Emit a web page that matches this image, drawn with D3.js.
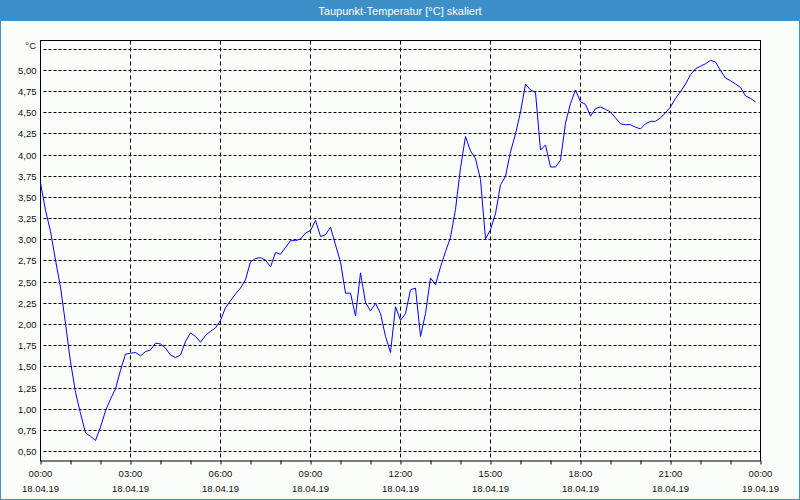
<!DOCTYPE html>
<html>
<head>
<meta charset="utf-8">
<script src="https://cdn.jsdelivr.net/npm/d3@7"></script>
<style>
  html, body { margin: 0; padding: 0; background: #fbfdfb; }
  svg { display: block; }
  text { font-family: "Liberation Sans", Arial, sans-serif; }
</style>
</head>
<body>
<svg id="chart" width="800" height="500"></svg>
<script>
// ---- data ----
const chartTitle = "Taupunkt-Temperatur [°C] skaliert";
const unitLabel = "°C";
const startTime = "2019-04-18T00:00:00";
const endTime = "2019-04-19T00:00:00";
const intervalMinutes = 10;
// dew point values every 10 minutes, 18.04.19 00:00 .. 23:50
const dewPoint = [
  3.67, 3.35, 3.10, 2.76, 2.44, 2.01, 1.56, 1.20, 0.95, 0.72,
  0.68, 0.63, 0.79, 0.98, 1.12, 1.24, 1.46, 1.65, 1.66, 1.67,
  1.63, 1.68, 1.70, 1.78, 1.77, 1.72, 1.64, 1.61, 1.64, 1.80,
  1.90, 1.86, 1.79, 1.87, 1.92, 1.96, 2.05, 2.20, 2.28, 2.36,
  2.43, 2.53, 2.74, 2.78, 2.79, 2.76, 2.68, 2.85, 2.83, 2.91,
  2.99, 2.99, 3.01, 3.08, 3.11, 3.23, 3.04, 3.06, 3.15, 2.94,
  2.74, 2.37, 2.37, 2.10, 2.61, 2.26, 2.16, 2.25, 2.13, 1.86,
  1.67, 2.21, 2.05, 2.13, 2.41, 2.43, 1.86, 2.13, 2.55, 2.47,
  2.68, 2.86, 3.03, 3.36, 3.85, 4.22, 4.05, 3.96, 3.71, 3.01,
  3.12, 3.31, 3.65, 3.75, 4.04, 4.25, 4.51, 4.84, 4.77, 4.74,
  4.06, 4.12, 3.86, 3.86, 3.94, 4.38, 4.61, 4.77, 4.63, 4.60,
  4.46, 4.55, 4.57, 4.54, 4.51, 4.44, 4.37, 4.36, 4.36, 4.33,
  4.31, 4.37, 4.40, 4.40, 4.44, 4.50, 4.57, 4.67, 4.75, 4.84,
  4.95, 5.02, 5.05, 5.08, 5.12, 5.10, 5.00, 4.91, 4.88, 4.84,
  4.80, 4.70, 4.67, 4.63
];
const yTicks = [0.5, 0.75, 1.0, 1.25, 1.5, 1.75, 2.0, 2.25, 2.5, 2.75, 3.0, 3.25, 3.5, 3.75, 4.0, 4.25, 4.5, 4.75, 5.0];
const yTopGrid = 5.25;
const timeLabels = ["00:00", "03:00", "06:00", "09:00", "12:00", "15:00", "18:00", "21:00", "00:00"];
const dateLabels = ["18.04.19", "18.04.19", "18.04.19", "18.04.19", "18.04.19", "18.04.19", "18.04.19", "18.04.19", "19.04.19"];
const yDomain = [0.388, 5.36];

// ---- layout ----
const W = 800, H = 500;
const plot = { left: 40.5, right: 760.5, top: 40.5, bottom: 460.5 };
const svg = d3.select("#chart");

const t0 = new Date(startTime), t1 = new Date(endTime);
const x = d3.scaleTime().domain([t0, t1]).range([plot.left, plot.right]);
const y = d3.scaleLinear().domain(yDomain).range([461, 40]);
const snap = v => Math.floor(v) + 0.5;

const points = dewPoint.map((v, i) => ({ t: new Date(t0.getTime() + i * intervalMinutes * 60000), v }));

// window frame
svg.append("rect").attr("x", 0.5).attr("y", 0.5).attr("width", W - 1).attr("height", H - 1)
  .attr("fill", "#fbfdfb").attr("stroke", "#3c8fc7").attr("stroke-width", 1);
svg.append("rect").attr("x", 0).attr("y", 0).attr("width", W).attr("height", 21).attr("fill", "#3c8fc7");
svg.append("text").attr("x", 400).attr("y", 14.5).attr("text-anchor", "middle")
  .attr("fill", "#ffffff").attr("font-size", "11px").text(chartTitle);

// horizontal grid
const gridG = svg.append("g").attr("stroke", "#000").attr("stroke-width", 1);
[...yTicks, yTopGrid].forEach(v => {
  gridG.append("line").attr("x1", plot.left + 3).attr("x2", plot.right)
    .attr("y1", snap(y(v))).attr("y2", snap(y(v))).attr("stroke-dasharray", "3,2");
});
// vertical grid (every 3 hours)
const majorTicks = timeLabels.map((_, i) => new Date(t0.getTime() + i * 3 * 3600000));
majorTicks.slice(1, -1).forEach(t => {
  gridG.append("line").attr("x1", snap(x(t))).attr("x2", snap(x(t)))
    .attr("y1", plot.top).attr("y2", plot.bottom).attr("stroke-dasharray", "4,3");
});

// frame lines
const frame = svg.append("g").attr("stroke", "#000").attr("stroke-width", 1).attr("shape-rendering", "crispEdges");
frame.append("line").attr("x1", plot.left).attr("x2", plot.right).attr("y1", plot.top).attr("y2", plot.top);
frame.append("line").attr("x1", plot.right).attr("x2", plot.right).attr("y1", plot.top).attr("y2", plot.bottom);

// x axis
const xAxis = d3.axisBottom(x).ticks(d3.timeHour.every(1)).tickSize(4).tickFormat("");
const xg = svg.append("g").attr("transform", `translate(0,${plot.bottom})`).call(xAxis);
xg.select(".domain").attr("stroke", "#000").attr("d", `M${plot.left},0.5H${plot.right}`);
xg.selectAll(".tick line").attr("stroke", "#000");
majorTicks.forEach((t, i) => {
  svg.append("text").attr("x", snap(x(t))).attr("y", 477).attr("text-anchor", "middle")
    .attr("font-size", "9.5px").attr("fill", "#111").text(timeLabels[i]);
  svg.append("text").attr("x", snap(x(t))).attr("y", 492).attr("text-anchor", "middle")
    .attr("font-size", "9.5px").attr("fill", "#111").text(dateLabels[i]);
});

// y axis
const yAxis = d3.axisLeft(y).tickValues(yTicks).tickSize(0)
  .tickFormat(d => d3.format(".2f")(d).replace(".", ","));
const yg = svg.append("g").attr("transform", `translate(${plot.left},0)`).call(yAxis);
yg.select(".domain").attr("stroke", "#000").attr("d", `M0,${plot.top - 0.5}V${plot.bottom + 0.5}`);
yg.selectAll(".tick").attr("transform", d => `translate(0,${snap(y(d))})`);
yg.selectAll(".tick text").attr("x", -4).attr("dy", "0.35em")
  .attr("font-family", "Liberation Sans, Arial, sans-serif").attr("font-size", "9.5px").attr("fill", "#111");
svg.append("text").attr("x", 36).attr("y", snap(y(yTopGrid)) - 1).attr("text-anchor", "end")
  .attr("font-size", "9.5px").attr("fill", "#111").text(unitLabel);

// line
const line = d3.line().x(d => x(d.t)).y(d => y(d.v));
svg.append("path").datum(points).attr("d", line)
  .attr("fill", "none").attr("stroke", "#0000ff").attr("stroke-width", 1);
</script>
</body>
</html>
